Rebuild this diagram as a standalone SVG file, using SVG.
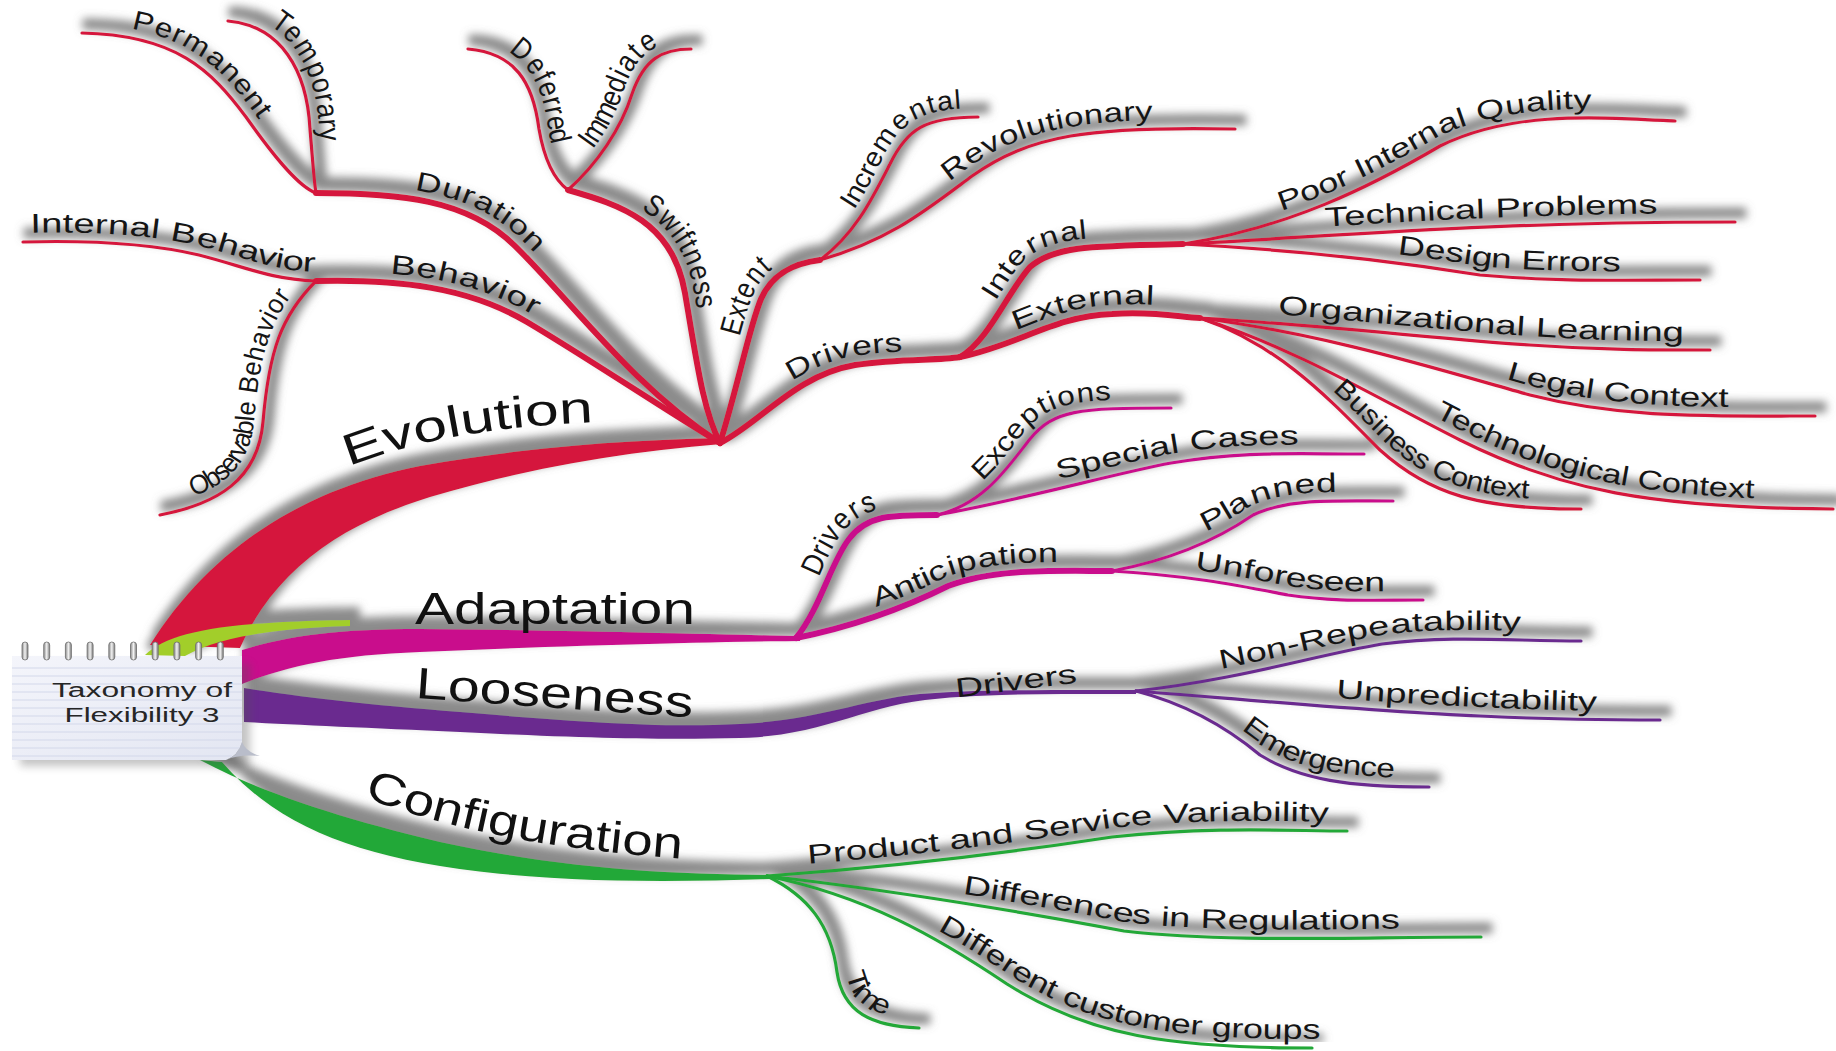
<svg xmlns="http://www.w3.org/2000/svg" xmlns:xlink="http://www.w3.org/1999/xlink" width="1836" height="1051" viewBox="0 0 1836 1051">
  <style>
    .ln { fill: none; stroke-linecap: round; stroke-linejoin: round; }
    .l1 { stroke-width: 6; }
    .l2 { stroke-width: 3.2; }
    .r { stroke: #d5183c; }
    .m { stroke: #c90f8c; }
    .p { stroke: #6b2b8f; }
    .g { stroke: #24a837; }
    .lb { font-family: "Liberation Sans", Arial, sans-serif; font-size: 27px; fill: #151515; text-anchor: middle; }
    .tall { font-size: 30px; }
    .big { font-family: "Liberation Sans", Arial, sans-serif; font-size: 44px; fill: #111; }
    .ct { font-family: "Liberation Sans", Arial, sans-serif; font-size: 20px; fill: #262626; text-anchor: middle; }
  </style>
  <defs>
    <!-- grey relief band that sits above every branch -->
    <filter id="relief" filterUnits="userSpaceOnUse" x="0" y="0" width="1836" height="1051">
      <feMorphology in="SourceAlpha" operator="dilate" radius="4" result="d"/>
      <feGaussianBlur in="d" stdDeviation="4" result="b"/>
      <feOffset in="b" dx="6" dy="-9" result="o"/>
      <feFlood flood-color="#777777" flood-opacity="0.85"/>
      <feComposite in2="o" operator="in" result="s"/>
      <feMerge><feMergeNode in="s"/><feMergeNode in="SourceGraphic"/></feMerge>
    </filter>
    <filter id="soft" x="-20%" y="-20%" width="140%" height="140%">
      <feGaussianBlur stdDeviation="4"/>
    </filter>
    <linearGradient id="paper" x1="0" y1="0" x2="1" y2="1">
      <stop offset="0" stop-color="#f4f5fb"/>
      <stop offset="1" stop-color="#e3e6f2"/>
    </linearGradient>
    <linearGradient id="ring" x1="0" y1="0" x2="1" y2="0">
      <stop offset="0" stop-color="#8a8a8a"/>
      <stop offset="0.5" stop-color="#f2f2f2"/>
      <stop offset="1" stop-color="#7a7a7a"/>
    </linearGradient>
  </defs>

  <rect width="1836" height="1051" fill="#ffffff"/>

  <g id="connectors" filter="url(#relief)">
    <!-- main branches -->
    <path id="trunk-evolution" fill="#d5183c" d="M150,645 C210,550 300,490 420,466 C520,448 620,440 722,438 L722,444 C620,452 520,470 430,497 C340,525 275,570 240,648 Z"/>
    <path id="trunk-stub" fill="#a2ce2b" d="M145,655 C170,632 220,622 350,620 L350,626 C280,628 220,636 185,656 Z"/>
    <path id="trunk-adaptation" fill="#c90f8c" d="M242,650 C290,635 340,629 420,629 C560,630 700,634 800,636 L800,641 C700,642 560,646 420,652 C340,655 290,665 242,684 Z"/>
    <path id="trunk-looseness" fill="#6b2b8f" d="M244,688 C300,697 370,705 460,712 C580,722 660,728 740,724 C820,720 860,700 920,694 C990,689 1060,690 1136,690 L1136,694 C1060,694 990,693 925,700 C860,708 820,736 740,738 C660,740 580,738 460,732 C370,728 300,725 244,722 Z"/>
    <path id="trunk-configuration" fill="#24a837" d="M200,760 C260,792 340,818 440,842 C560,868 660,874 770,875 L770,879 C650,883 540,882 440,866 C340,850 270,818 222,762 Z"/>

    <!-- Evolution -->
    <path id="e-behavior" class="ln l1 r" d="M316,281 C398,279 468,287 527,322 C586,357 656,404 720,443"/>
    <path id="e-intbeh" class="ln l2 r" d="M23,242 C94,240 152,244 199,255 C246,267 269,279 316,281"/>
    <path id="e-obsbeh" class="ln l2 r" d="M160,515 C217,504 258,480 263,422 C269,351 281,316 316,281"/>
    <path id="e-duration" class="ln l1 r" d="M316,193 C398,193 468,199 515,246 C574,304 632,386 720,443"/>
    <path id="e-permanent" class="ln l2 r" d="M82,33 C176,35 211,70 246,117 C275,158 299,187 316,193"/>
    <path id="e-temporary" class="ln l2 r" d="M228,21 C281,26 307,70 310,129 C313,164 314,181 316,193"/>
    <path id="e-swiftness" class="ln l1 r" d="M568,190 C621,205 673,222 685,293 C697,363 703,410 720,443"/>
    <path id="e-deferred" class="ln l2 r" d="M468,49 C515,53 533,82 539,129 C545,164 556,181 568,190"/>
    <path id="e-immediate" class="ln l2 r" d="M568,190 C597,164 621,129 632,94 C644,59 662,49 691,49"/>
    <path id="e-extent" class="ln l1 r" d="M720,443 C738,386 749,328 761,299 C773,272 796,263 820,260"/>
    <path id="e-incremental" class="ln l2 r" d="M820,260 C855,234 872,199 890,164 C907,129 925,117 978,117"/>
    <path id="e-revolutionary" class="ln l2 r" d="M820,260 C890,240 925,211 972,176 C1030,135 1089,126 1235,129"/>
    <path id="e-drivers" class="ln l1 r" d="M720,443 C761,422 796,375 855,365 C902,358 937,361 960,357"/>
    <path id="e-internal" class="ln l1 r" d="M960,357 C989,340 1007,293 1030,267 C1054,246 1089,246 1183,244"/>
    <path id="e-external" class="ln l1 r" d="M960,357 C1019,345 1054,316 1112,314 C1159,311 1183,318 1200,318"/>
    <path id="e-poor" class="ln l2 r" d="M1183,244 C1288,228 1370,187 1440,146 C1511,111 1593,117 1675,121"/>
    <path id="e-technical" class="ln l2 r" d="M1183,244 C1340,236 1480,222 1735,222"/>
    <path id="e-design" class="ln l2 r" d="M1183,244 C1300,250 1400,262 1480,275 C1560,282 1620,280 1700,280"/>
    <path id="e-org" class="ln l2 r" d="M1200,318 C1320,325 1450,340 1530,345 C1600,350 1650,350 1710,350"/>
    <path id="e-legal" class="ln l2 r" d="M1200,318 C1330,335 1440,370 1530,395 C1620,418 1700,416 1815,416"/>
    <path id="e-techctx" class="ln l2 r" d="M1200,318 C1300,350 1380,400 1460,440 C1560,490 1650,508 1833,509"/>
    <path id="e-business" class="ln l2 r" d="M1200,318 C1280,345 1330,400 1380,450 C1430,495 1480,509 1581,509"/>

    <!-- Adaptation -->
    <path id="a-drivers" class="ln l1 m" d="M796,638 C820,609 831,562 849,539 C867,515 890,515 937,515"/>
    <path id="a-exceptions" class="ln l2 m" d="M937,515 C984,504 1007,468 1030,439 C1054,410 1077,408 1171,408"/>
    <path id="a-special" class="ln l2 m" d="M937,515 C1030,498 1112,474 1171,463 C1241,451 1288,454 1364,454"/>
    <path id="a-anticipation" class="ln l1 m" d="M796,638 C855,626 902,609 948,586 C995,568 1054,571 1112,571"/>
    <path id="a-planned" class="ln l2 m" d="M1112,571 C1171,560 1218,539 1253,515 C1288,498 1335,501 1393,501"/>
    <path id="a-unforeseen" class="ln l2 m" d="M1112,571 C1194,576 1241,586 1288,595 C1335,602 1370,600 1423,600"/>

    <!-- Looseness -->
    <path id="l-nonrep" class="ln l2 p" d="M1136,691 C1241,679 1312,656 1382,644 C1452,635 1511,641 1581,641"/>
    <path id="l-unpred" class="ln l2 p" d="M1136,691 C1250,700 1380,712 1480,716 C1560,720 1610,720 1660,720"/>
    <path id="l-emergence" class="ln l2 p" d="M1136,691 C1190,705 1230,730 1260,755 C1300,780 1350,787 1429,787"/>

    <!-- Configuration -->
    <path id="c-product" class="ln l2 g" d="M767,876 C890,867 995,855 1112,837 C1218,826 1288,831 1347,831"/>
    <path id="c-regulations" class="ln l2 g" d="M767,876 C890,890 1030,913 1124,931 C1230,943 1347,937 1481,937"/>
    <path id="c-customers" class="ln l2 g" d="M767,876 C866,896 937,937 1007,984 C1089,1036 1171,1048 1312,1048"/>
    <path id="c-time" class="ln l2 g" d="M767,876 C808,896 831,925 837,972 C843,1013 872,1026 919,1028"/>
  </g>

  <!-- guide curves for the large branch titles -->
  <defs>
    <path id="t-evolution" d="M345,468 C420,438 500,426 600,422"/>
    <path id="t-configuration" d="M360,796 C430,822 520,848 700,860"/>
  </defs>

  <g id="node-center">
    <rect x="20" y="664" width="230" height="102" fill="#555" opacity="0.35" filter="url(#soft)"/>
    <path d="M12,656 H242 V742 Q238,756 226,760 H12 Z" fill="url(#paper)"/>
    <g stroke="#d3d8ea" stroke-width="1">
      <line x1="12" y1="668" x2="242" y2="668"/>
      <line x1="12" y1="676" x2="242" y2="676"/>
      <line x1="12" y1="684" x2="242" y2="684"/>
      <line x1="12" y1="692" x2="242" y2="692"/>
      <line x1="12" y1="700" x2="242" y2="700"/>
      <line x1="12" y1="708" x2="242" y2="708"/>
      <line x1="12" y1="716" x2="242" y2="716"/>
      <line x1="12" y1="724" x2="242" y2="724"/>
      <line x1="12" y1="732" x2="242" y2="732"/>
      <line x1="12" y1="740" x2="242" y2="740"/>
      <line x1="12" y1="748" x2="240" y2="748"/>
      <line x1="12" y1="756" x2="232" y2="756"/>
    </g>
    <path d="M242,742 Q246,752 260,756 Q238,754 226,760 Q238,756 242,742 Z" fill="#b9bdca"/>
    <g fill="url(#ring)" stroke="#6d6d6d" stroke-width="0.8">
      <rect x="22" y="642" width="6" height="18" rx="3"/>
      <rect x="43.7" y="642" width="6" height="18" rx="3"/>
      <rect x="65.4" y="642" width="6" height="18" rx="3"/>
      <rect x="87.1" y="642" width="6" height="18" rx="3"/>
      <rect x="108.8" y="642" width="6" height="18" rx="3"/>
      <rect x="130.5" y="642" width="6" height="18" rx="3"/>
      <rect x="152.2" y="642" width="6" height="18" rx="3"/>
      <rect x="173.9" y="642" width="6" height="18" rx="3"/>
      <rect x="195.6" y="642" width="6" height="18" rx="3"/>
      <rect x="217.3" y="642" width="6" height="18" rx="3"/>
    </g>
    <text class="ct" x="142" y="697" textLength="180" lengthAdjust="spacingAndGlyphs">Taxonomy of</text>
    <text class="ct" x="142" y="722" textLength="155" lengthAdjust="spacingAndGlyphs">Flexibility 3</text>
  </g>

  <g id="node-evolution"><text class="big"><textPath href="#t-evolution" startOffset="4" textLength="250" lengthAdjust="spacingAndGlyphs">Evolution</textPath></text></g>
  <g id="node-adaptation"><text class="big" x="415" y="624" textLength="280" lengthAdjust="spacingAndGlyphs">Adaptation</text></g>
  <g id="node-looseness"><text class="big" x="415" y="698" transform="rotate(4 415 698)" textLength="278" lengthAdjust="spacingAndGlyphs">Looseness</text></g>
  <g id="node-configuration"><text class="big"><textPath href="#t-configuration" startOffset="4" textLength="325" lengthAdjust="spacingAndGlyphs">Configuration</textPath></text></g>

  <!-- Evolution labels -->
  <g id="node-behavior"><text class="lb"><textPath href="#e-behavior" startOffset="33%" textLength="148" lengthAdjust="spacingAndGlyphs"><tspan dy="-9">Behavior</tspan></textPath></text></g>
  <g id="node-internal-behavior"><text class="lb"><textPath href="#e-intbeh" startOffset="51%" textLength="288" lengthAdjust="spacingAndGlyphs"><tspan dy="-9">Internal Behavior</tspan></textPath></text></g>
  <g id="node-observable-behavior"><text class="lb"><textPath href="#e-obsbeh" startOffset="52%" textLength="240" lengthAdjust="spacingAndGlyphs"><tspan dy="-9">Observable Behavior</tspan></textPath></text></g>
  <g id="node-duration"><text class="lb"><textPath href="#e-duration" startOffset="33%" textLength="134" lengthAdjust="spacingAndGlyphs"><tspan dy="-9">Duration</tspan></textPath></text></g>
  <g id="node-permanent"><text class="lb"><textPath href="#e-permanent" startOffset="42%" textLength="155" lengthAdjust="spacingAndGlyphs"><tspan dy="-9">Permanent</tspan></textPath></text></g>
  <g id="node-temporary"><text class="lb tall"><textPath href="#e-temporary" startOffset="47%" textLength="124" lengthAdjust="spacingAndGlyphs"><tspan dy="-9">Temporary</tspan></textPath></text></g>
  <g id="node-swiftness"><text class="lb tall"><textPath href="#e-swiftness" startOffset="40%" textLength="112" lengthAdjust="spacingAndGlyphs"><tspan dy="-9">Swiftness</tspan></textPath></text></g>
  <g id="node-deferred"><text class="lb tall"><textPath href="#e-deferred" startOffset="46%" textLength="100" lengthAdjust="spacingAndGlyphs"><tspan dy="-9">Deferred</tspan></textPath></text></g>
  <g id="node-immediate"><text class="lb tall"><textPath href="#e-immediate" startOffset="55%" textLength="122" lengthAdjust="spacingAndGlyphs"><tspan dy="-9">Immediate</tspan></textPath></text></g>
  <g id="node-extent"><text class="lb tall"><textPath href="#e-extent" startOffset="64%" textLength="72" lengthAdjust="spacingAndGlyphs"><tspan dy="-9">Extent</tspan></textPath></text></g>
  <g id="node-incremental"><text class="lb"><textPath href="#e-incremental" startOffset="60%" textLength="150" lengthAdjust="spacingAndGlyphs"><tspan dy="-9">Incremental</tspan></textPath></text></g>
  <g id="node-revolutionary"><text class="lb"><textPath href="#e-revolutionary" startOffset="58%" textLength="212" lengthAdjust="spacingAndGlyphs"><tspan dy="-9">Revolutionary</tspan></textPath></text></g>
  <g id="node-evolution-drivers"><text class="lb"><textPath href="#e-drivers" startOffset="57%" textLength="112" lengthAdjust="spacingAndGlyphs"><tspan dy="-9">Drivers</tspan></textPath></text></g>
  <g id="node-internal"><text class="lb"><textPath href="#e-internal" startOffset="45%" textLength="110" lengthAdjust="spacingAndGlyphs"><tspan dy="-9">Internal</tspan></textPath></text></g>
  <g id="node-external"><text class="lb"><textPath href="#e-external" startOffset="53%" textLength="138" lengthAdjust="spacingAndGlyphs"><tspan dy="-9">External</tspan></textPath></text></g>
  <g id="node-poor-quality"><text class="lb"><textPath href="#e-poor" startOffset="52%" textLength="328" lengthAdjust="spacingAndGlyphs"><tspan dy="-9">Poor Internal Quality</tspan></textPath></text></g>
  <g id="node-technical"><text class="lb"><textPath href="#e-technical" startOffset="56%" textLength="332" lengthAdjust="spacingAndGlyphs"><tspan dy="-9">Technical Problems</tspan></textPath></text></g>
  <g id="node-design"><text class="lb"><textPath href="#e-design" startOffset="63%" textLength="226" lengthAdjust="spacingAndGlyphs"><tspan dy="-9">Design Errors</tspan></textPath></text></g>
  <g id="node-org-learning"><text class="lb"><textPath href="#e-org" startOffset="55%" textLength="408" lengthAdjust="spacingAndGlyphs"><tspan dy="-9">Organizational Learning</tspan></textPath></text></g>
  <g id="node-legal"><text class="lb"><textPath href="#e-legal" startOffset="68%" textLength="228" lengthAdjust="spacingAndGlyphs"><tspan dy="-9">Legal Context</tspan></textPath></text></g>
  <g id="node-tech-context"><text class="lb"><textPath href="#e-techctx" startOffset="63%" textLength="338" lengthAdjust="spacingAndGlyphs"><tspan dy="-9">Technological Context</tspan></textPath></text></g>
  <g id="node-business"><text class="lb"><textPath href="#e-business" startOffset="61%" textLength="238" lengthAdjust="spacingAndGlyphs"><tspan dy="-9">Business Context</tspan></textPath></text></g>

  <!-- Adaptation labels -->
  <g id="node-adaptation-drivers"><text class="lb tall"><textPath href="#a-drivers" startOffset="52%" textLength="86" lengthAdjust="spacingAndGlyphs"><tspan dy="-9">Drivers</tspan></textPath></text></g>
  <g id="node-exceptions"><text class="lb"><textPath href="#a-exceptions" startOffset="50%" textLength="154" lengthAdjust="spacingAndGlyphs"><tspan dy="-9">Exceptions</tspan></textPath></text></g>
  <g id="node-special"><text class="lb"><textPath href="#a-special" startOffset="57%" textLength="242" lengthAdjust="spacingAndGlyphs"><tspan dy="-9">Special Cases</tspan></textPath></text></g>
  <g id="node-anticipation"><text class="lb"><textPath href="#a-anticipation" startOffset="55%" textLength="187" lengthAdjust="spacingAndGlyphs"><tspan dy="-9">Anticipation</tspan></textPath></text></g>
  <g id="node-planned"><text class="lb"><textPath href="#a-planned" startOffset="58%" textLength="136" lengthAdjust="spacingAndGlyphs"><tspan dy="-9">Planned</tspan></textPath></text></g>
  <g id="node-unforeseen"><text class="lb"><textPath href="#a-unforeseen" startOffset="57%" textLength="194" lengthAdjust="spacingAndGlyphs"><tspan dy="-9">Unforeseen</tspan></textPath></text></g>

  <!-- Looseness labels -->
  <g id="node-looseness-drivers"><text class="lb" x="1017" y="690" transform="rotate(-7 1017 690)" textLength="122" lengthAdjust="spacingAndGlyphs">Drivers</text></g>
  <g id="node-nonrep"><text class="lb"><textPath href="#l-nonrep" startOffset="53%" textLength="302" lengthAdjust="spacingAndGlyphs"><tspan dy="-9">Non-Repeatability</tspan></textPath></text></g>
  <g id="node-unpred"><text class="lb"><textPath href="#l-unpred" startOffset="63%" textLength="262" lengthAdjust="spacingAndGlyphs"><tspan dy="-9">Unpredictability</tspan></textPath></text></g>
  <g id="node-emergence"><text class="lb"><textPath href="#l-emergence" startOffset="62%" textLength="170" lengthAdjust="spacingAndGlyphs"><tspan dy="-9">Emergence</tspan></textPath></text></g>

  <!-- Configuration labels -->
  <g id="node-product"><text class="lb"><textPath href="#c-product" startOffset="52%" textLength="522" lengthAdjust="spacingAndGlyphs"><tspan dy="-9">Product and Service Variability</tspan></textPath></text></g>
  <g id="node-regulations"><text class="lb"><textPath href="#c-regulations" startOffset="58%" textLength="442" lengthAdjust="spacingAndGlyphs"><tspan dy="-9">Differences in Regulations</tspan></textPath></text></g>
  <g id="node-customers"><text class="lb"><textPath href="#c-customers" startOffset="66%" textLength="412" lengthAdjust="spacingAndGlyphs"><tspan dy="-9">Different customer groups</tspan></textPath></text></g>
  <g id="node-time"><text class="lb"><textPath href="#c-time" startOffset="70%" textLength="70" lengthAdjust="spacingAndGlyphs"><tspan dy="-9">Time</tspan></textPath></text></g>
</svg>
